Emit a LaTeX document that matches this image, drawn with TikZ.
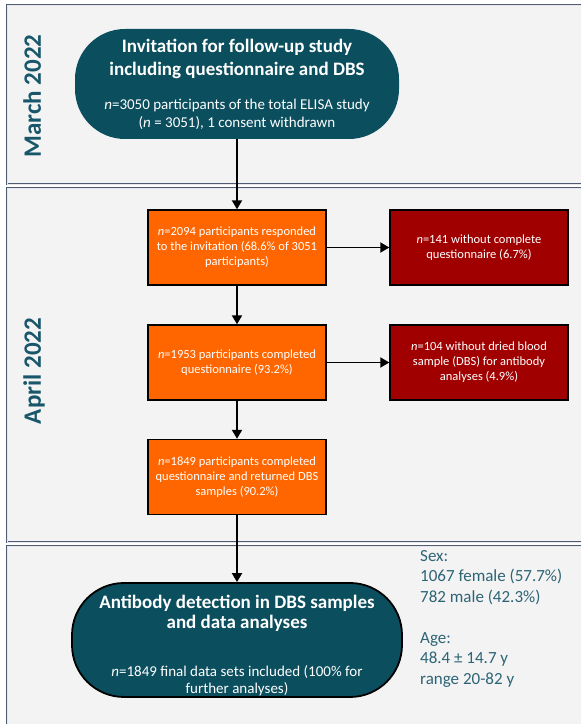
\documentclass[tikz,border=0pt]{standalone}
\usepackage{fontspec}
\setmainfont{Carlito}
\usetikzlibrary{arrows.meta}

\definecolor{pillteal}{RGB}{11,78,94}
\definecolor{boxorange}{RGB}{255,102,0}
\definecolor{boxred}{RGB}{160,0,0}
\definecolor{bandline}{RGB}{80,92,115}
\definecolor{bandfill}{RGB}{243,243,243}
\definecolor{datetxt}{RGB}{24,86,106}
\definecolor{stattxt}{RGB}{45,100,118}

\tikzset{
  band/.style={draw=bandline, double=white!85!bandline, line width=0.8pt, double distance=0.9pt, fill=bandfill},
  pill/.style={rectangle, fill=pillteal, text=white, align=center, inner sep=0pt,
    font=\fontsize{15}{18}\selectfont},
  stepbox/.style={rectangle, draw=black, line width=1.4pt, fill=boxorange, text=white,
    minimum width=178pt, minimum height=75pt, inner sep=0pt, align=center,
    font=\fontsize{12.5}{15}\selectfont},
  dropbox/.style={stepbox, fill=boxred},
  datelabel/.style={rotate=90, anchor=base, text=datetxt, font=\fontsize{25}{30}\selectfont\bfseries},
  stats/.style={anchor=north west, align=left, inner sep=0pt, text=stattxt,
    font=\fontsize{17}{20.5}\selectfont},
  flow/.style={-{Triangle[length=9pt,width=10pt]}, line width=1.9pt}
}

\begin{document}
\begin{tikzpicture}[x=1pt, y=1pt]

\useasboundingbox (0,0) rectangle (581,724);
\clip (0,0) rectangle (581,724);

% time bands
\fill[white] (0,0) rectangle (581,724);
\draw[band] (7,540) rectangle (640,719);
\draw[band] (7,182) rectangle (640,536);
\draw[band] (7,-30) rectangle (640,178);

\node[datelabel] (march) at (41,628) {March 2022};
\node[datelabel] (april) at (41,353) {April 2022};

% flow
\node[pill, minimum width=324pt, minimum height=110pt, rounded corners=50pt] (invite) at (237,640) {
	{\fontsize{19}{23}\selectfont\bfseries Invitation for follow-up study}\\[5pt]
	{\fontsize{19}{23}\selectfont\bfseries including questionnaire and DBS}\\[16pt]
	\textit{n}=3050 participants of the total ELISA study\\
	(\textit{n} = 3051), 1 consent withdrawn
};

\node[stepbox] (resp) at (237,476.5) {
	\textit{n}=2094 participants responded\\
	to the invitation (68.6\% of 3051\\
	participants)
};
\node[dropbox] (noq) at (479,476.5) {
	\textit{n}=141 without complete\\
	questionnaire (6.7\%)
};

\node[stepbox] (compl) at (237,361.5) {
	\textit{n}=1953 participants completed\\
	questionnaire (93.2\%)
};
\node[dropbox] (nodbs) at (479,361.5) {
	\textit{n}=104 without dried blood\\
	sample (DBS) for antibody\\
	analyses (4.9\%)
};

\node[stepbox] (final) at (237,247) {
	\textit{n}=1849 participants completed\\
	questionnaire and returned DBS\\
	samples (90.2\%)
};

\node[pill, draw=black, line width=1.8pt, minimum width=330pt, minimum height=114pt,
  rounded corners=52pt, font=\fontsize{15}{17}\selectfont] (analysis) at (237,84) {
	{\fontsize{19}{23}\selectfont\bfseries\rule{0pt}{24pt}Antibody detection in DBS samples}\\[3pt]
	{\fontsize{19}{23}\selectfont\bfseries and data analyses}\\[31pt]
	\textit{n}=1849 final data sets included (100\% for\\
	further analyses)
};

\node[stats] (sex) at (420,174) {
	Sex:\\
	1067 female (57.7\%)\\
	782 male (42.3\%)
};
\node[stats] (age) at (420,92) {
	Age:\\
	48.4 ± 14.7 y\\
	range 20-82 y
};

\draw[flow] (invite.south) -- (resp.north);
\draw[flow] (resp.south) -- (compl.north);
\draw[flow] (compl.south) -- (final.north);
\draw[flow] (final.south) -- (analysis.north);
\draw[flow] (resp.east) -- (noq.west);
\draw[flow] (compl.east) -- (nodbs.west);

\end{tikzpicture}
\end{document}
